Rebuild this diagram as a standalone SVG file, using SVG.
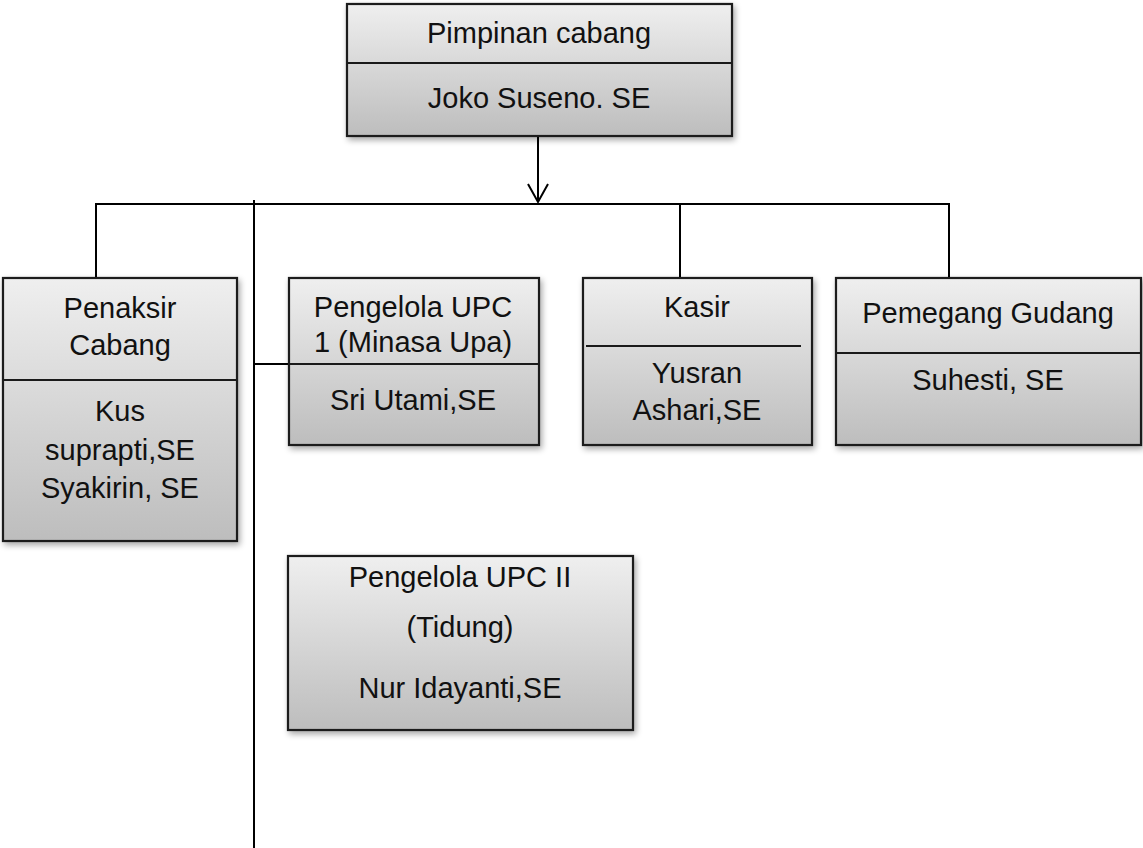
<svg xmlns="http://www.w3.org/2000/svg" width="1143" height="848" viewBox="0 0 1143 848">
  <defs>
    <linearGradient id="g" x1="0" y1="0" x2="0" y2="1">
      <stop offset="0" stop-color="#efefef"/>
      <stop offset="1" stop-color="#bdbdbd"/>
    </linearGradient>
    <filter id="sh" x="-10%" y="-10%" width="120%" height="125%">
      <feGaussianBlur in="SourceAlpha" stdDeviation="3"/>
      <feOffset dx="2" dy="3" result="b"/>
      <feComponentTransfer><feFuncA type="linear" slope="0.35"/></feComponentTransfer>
      <feMerge><feMergeNode/><feMergeNode in="SourceGraphic"/></feMerge>
    </filter>
  </defs>
  <style>
    .box { fill: url(#g); stroke: #1a1a1a; stroke-width: 2.2; filter: url(#sh); }
    .div { stroke: #1a1a1a; stroke-width: 2.2; fill: none; }
    .ln { stroke: #000; stroke-width: 2; fill: none; }
    text { font-family: "Liberation Sans", Arial, sans-serif; font-size: 29px; fill: #111; text-anchor: middle; }
  </style>

  <g id="connectors">
    <line class="ln" x1="538" y1="136" x2="538" y2="202"/>
    <polyline class="ln" points="528,184 538,202 548,184"/>
    <line class="ln" x1="95" y1="204" x2="950" y2="204"/>
    <line class="ln" x1="96" y1="203" x2="96" y2="278"/>
    <line class="ln" x1="680" y1="203" x2="680" y2="278"/>
    <line class="ln" x1="949" y1="203" x2="949" y2="278"/>
    <line class="ln" x1="254" y1="200" x2="254" y2="848"/>
    <line class="ln" x1="254" y1="364" x2="290" y2="364"/>
  </g>

  <g id="pimpinan">
    <rect class="box" x="347" y="4" width="385" height="132"/>
    <line class="div" x1="347" y1="63" x2="732" y2="63"/>
    <text x="539" y="43">Pimpinan cabang</text>
    <text x="539" y="108">Joko Suseno. SE</text>
  </g>

  <g id="penaksir">
    <rect class="box" x="3" y="278" width="234" height="263"/>
    <line class="div" x1="3" y1="380" x2="237" y2="380"/>
    <text x="120" y="318">Penaksir</text>
    <text x="120" y="355">Cabang</text>
    <text x="120" y="421">Kus</text>
    <text x="120" y="460">suprapti,SE</text>
    <text x="120" y="498">Syakirin, SE</text>
  </g>

  <g id="upc1">
    <rect class="box" x="289" y="278" width="250" height="167"/>
    <line class="div" x1="289" y1="364" x2="539" y2="364"/>
    <text x="413" y="317">Pengelola UPC</text>
    <text x="413" y="352">1 (Minasa Upa)</text>
    <text x="413" y="410">Sri Utami,SE</text>
  </g>

  <g id="kasir">
    <rect class="box" x="583" y="278" width="229" height="167"/>
    <line class="div" x1="586" y1="346" x2="801" y2="346"/>
    <text x="697" y="317">Kasir</text>
    <text x="697" y="383">Yusran</text>
    <text x="697" y="420">Ashari,SE</text>
  </g>

  <g id="gudang">
    <rect class="box" x="836" y="278" width="305" height="167"/>
    <line class="div" x1="836" y1="353" x2="1141" y2="353"/>
    <text x="988" y="323">Pemegang Gudang</text>
    <text x="988" y="390">Suhesti, SE</text>
  </g>

  <g id="upc2">
    <rect class="box" x="288" y="556" width="345" height="174"/>
    <text x="460" y="587">Pengelola UPC II</text>
    <text x="460" y="637">(Tidung)</text>
    <text x="460" y="698">Nur Idayanti,SE</text>
  </g>
</svg>
